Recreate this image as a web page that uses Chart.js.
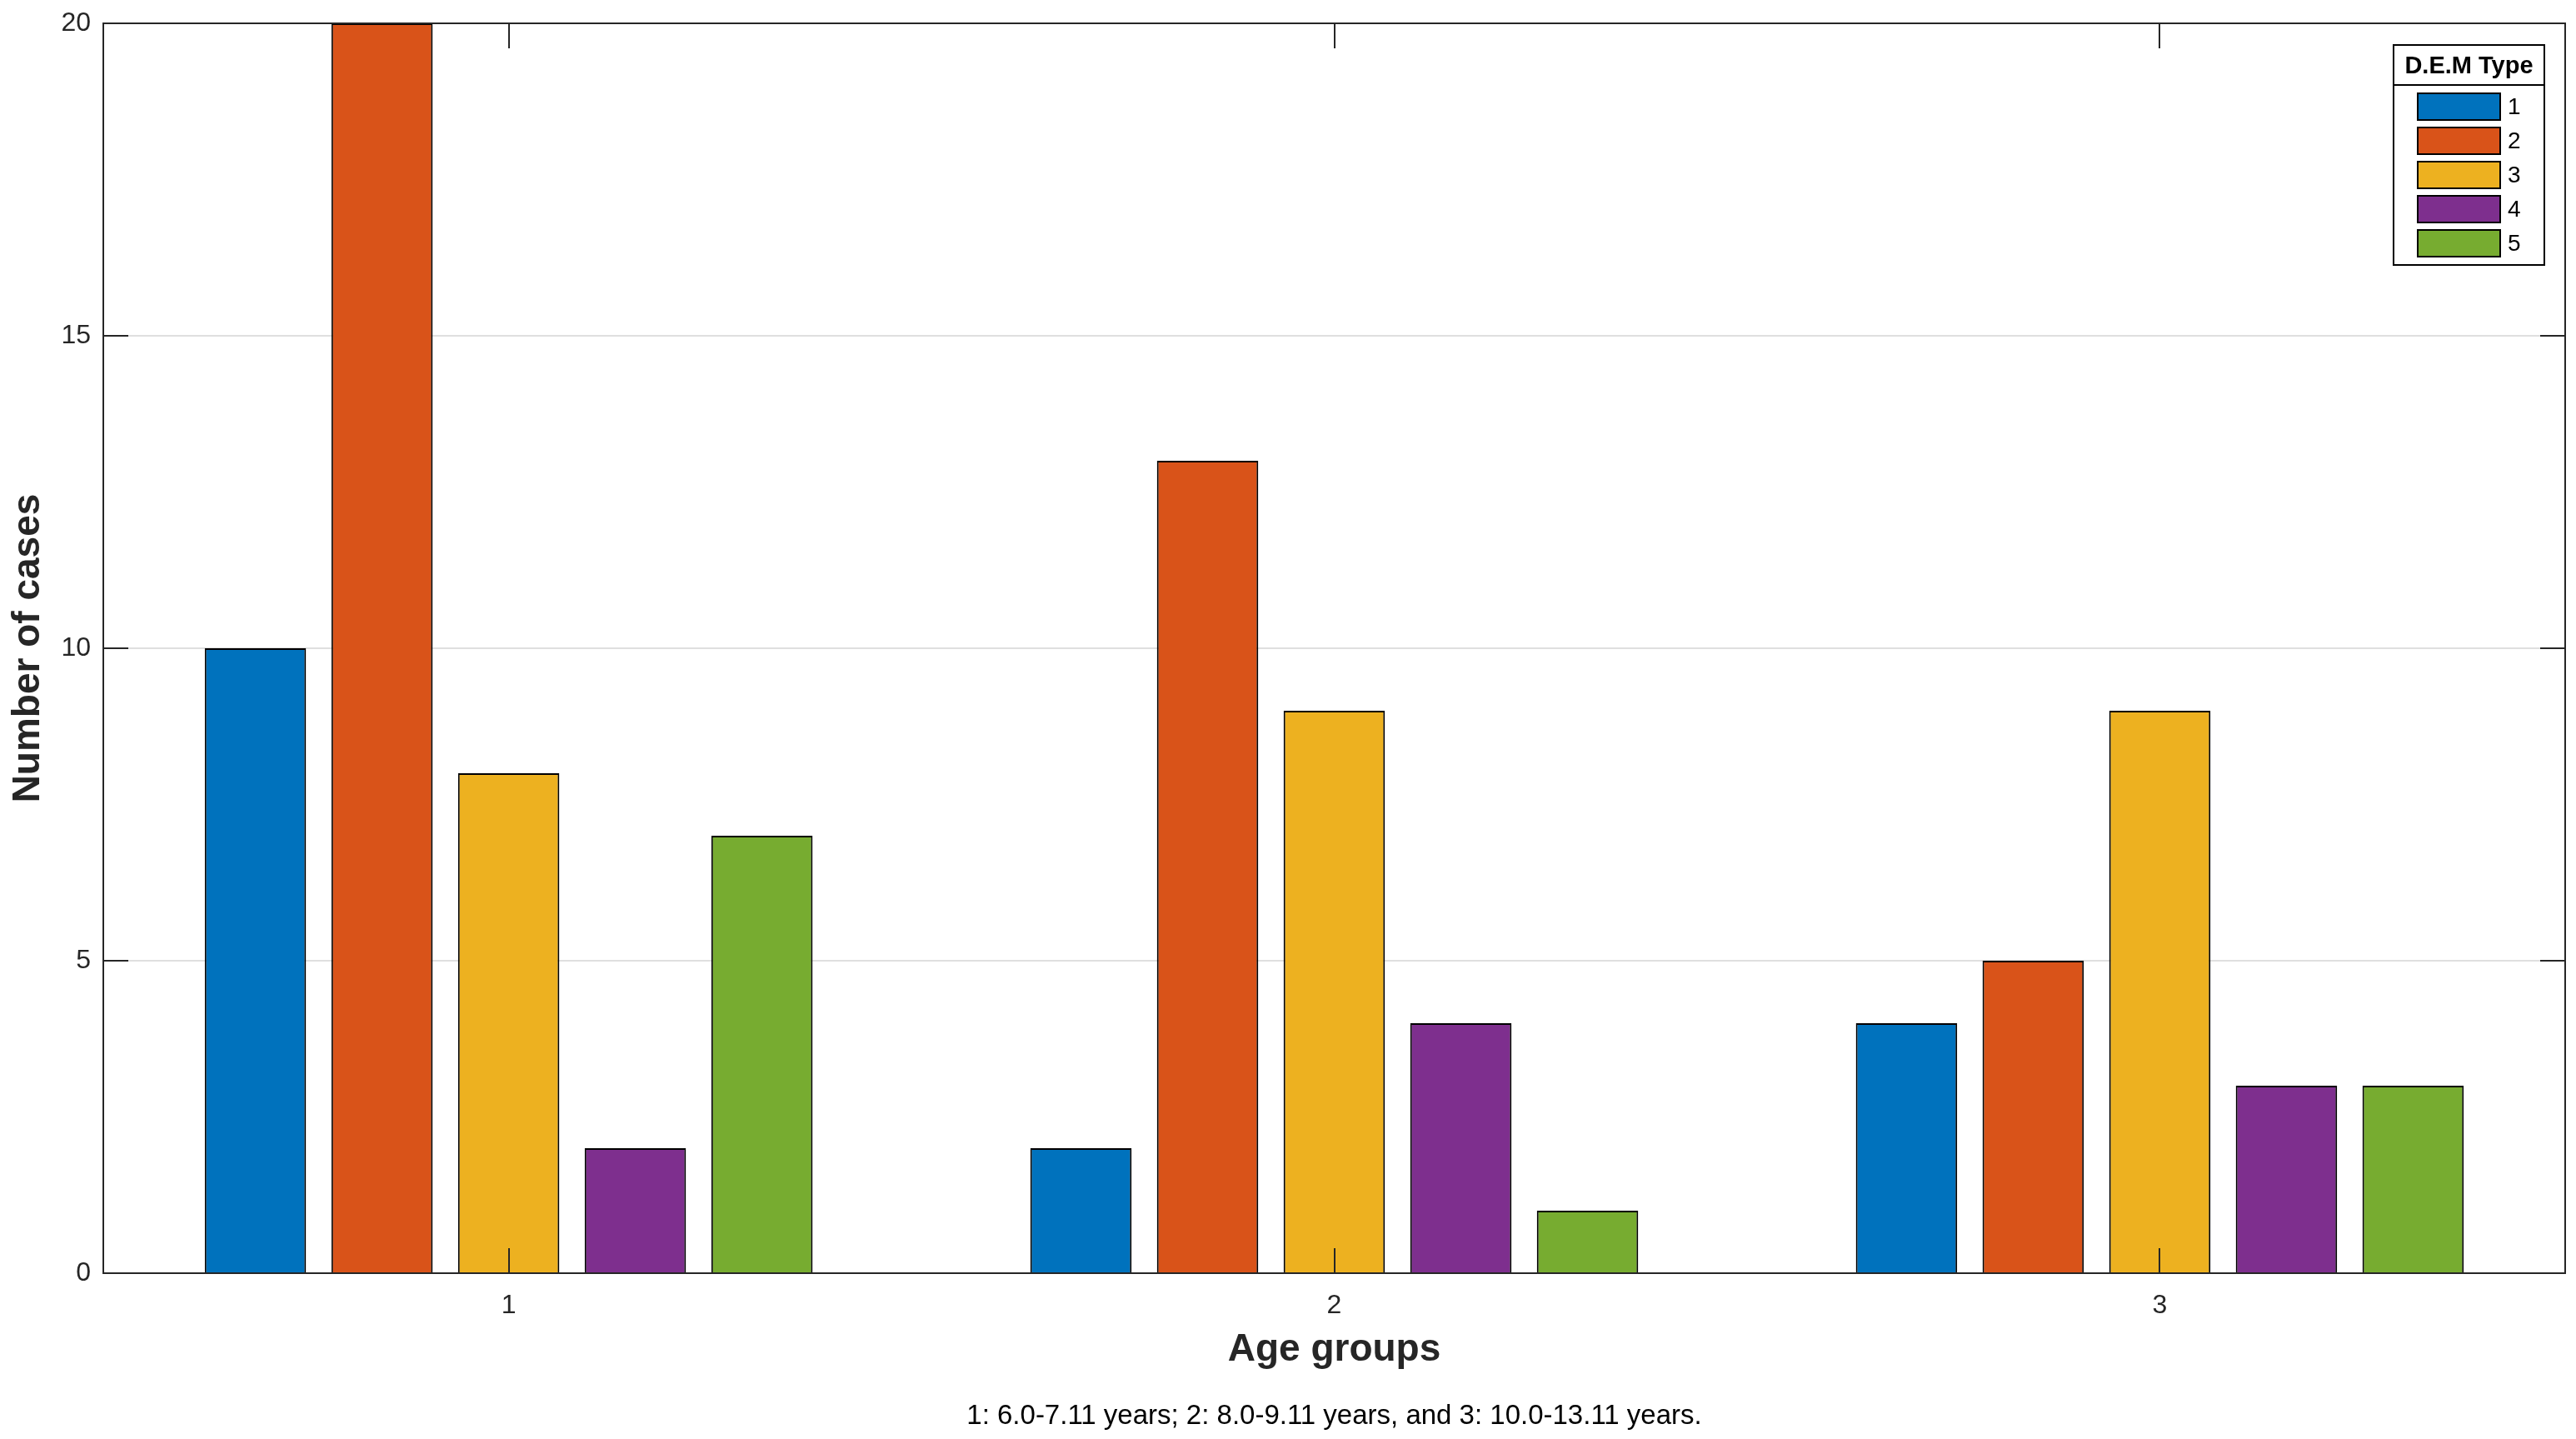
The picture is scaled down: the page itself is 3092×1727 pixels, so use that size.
<!DOCTYPE html>
<html>
<head>
<meta charset="utf-8">
<script src="https://cdn.jsdelivr.net/npm/chart.js@4.4.1/dist/chart.umd.min.js"></script>
<style>
  html, body { margin: 0; padding: 0; background: #fff; }
  canvas { display: block; }
</style>
</head>
<body>
<canvas id="demChart" width="3092" height="1727"></canvas>
<script>
const ageGroups = ['1', '2', '3'];
const demTypes = ['1', '2', '3', '4', '5'];
const type1 = [10, 2, 4];
const type2 = [20, 13, 5];
const type3 = [8, 9, 9];
const type4 = [2, 4, 3];
const type5 = [7, 1, 3];
const yTicks = [0, 5, 10, 15, 20];
const xTicks = [1, 2, 3];
const colors = ['#0072BD', '#D95319', '#EDB120', '#7E2F8E', '#77AC30'];
const footerText = '1: 6.0-7.11 years; 2: 8.0-9.11 years, and 3: 10.0-13.11 years.';

const seriesValues = [type1, type2, type3, type4, type5];
const axisColor = '#262626';
const fontFamily = '"Liberation Sans", Arial, Helvetica, sans-serif';

// box, inward ticks, legend, footer
const matlabLook = {
  id: 'matlabLook',
  afterDraw(chart) {
    const c = chart.ctx;
    const a = chart.chartArea;
    const xs = chart.scales.x;
    const ys = chart.scales.y;
    const tl = 30;
    c.save();
    c.strokeStyle = axisColor;
    c.lineWidth = 2;
    c.beginPath();
    yTicks.forEach(v => {
      const py = Math.round(ys.getPixelForValue(v));
      c.moveTo(a.left, py); c.lineTo(a.left + tl, py);
      c.moveTo(a.right, py); c.lineTo(a.right - tl, py);
    });
    xTicks.forEach(v => {
      const px = Math.round(xs.getPixelForValue(v));
      c.moveTo(px, a.bottom); c.lineTo(px, a.bottom - tl);
      c.moveTo(px, a.top); c.lineTo(px, a.top + tl);
    });
    c.stroke();
    c.strokeRect(a.left, a.top, a.right - a.left, a.bottom - a.top);

    // legend
    const lx = 2873, ly = 54, lw = 181, lh = 264;
    c.fillStyle = '#fff';
    c.fillRect(lx, ly, lw, lh);
    c.strokeStyle = '#000';
    c.lineWidth = 2;
    c.strokeRect(lx, ly, lw, lh);
    c.beginPath();
    c.moveTo(lx, 102); c.lineTo(lx + lw, 102);
    c.stroke();
    c.fillStyle = '#000';
    c.font = 'bold 29px ' + fontFamily;
    c.textAlign = 'center';
    c.textBaseline = 'middle';
    c.fillText('D.E.M Type', lx + lw / 2, 80);
    c.font = '28px ' + fontFamily;
    c.textAlign = 'left';
    chart.data.datasets.forEach((ds, i) => {
      const sy = 112 + i * 41;
      c.fillStyle = ds.backgroundColor;
      c.fillRect(2902, sy, 99, 32);
      c.strokeStyle = '#000';
      c.strokeRect(2902, sy, 99, 32);
      c.fillStyle = '#000';
      c.fillText(ds.label, 3010, sy + 17);
    });

    // footer note
    c.fillStyle = '#000';
    c.font = '33px ' + fontFamily;
    c.textAlign = 'center';
    c.fillText(footerText, (a.left + a.right) / 2, 1700);
    c.restore();
  }
};

const ctx = document.getElementById('demChart').getContext('2d');
const demChart = new Chart(ctx, {
  type: 'bar',
  data: {
    labels: ageGroups,
    datasets: demTypes.map((t, i) => ({
      label: t,
      data: seriesValues[i],
      backgroundColor: colors[i],
      borderColor: '#000',
      borderWidth: 2,
      categoryPercentage: 0.767,
      barPercentage: 0.8
    }))
  },
  options: {
    responsive: false,
    devicePixelRatio: 1,
    animation: false,
    layout: { padding: { top: 28, right: 13, left: 0, bottom: 0 } },
    plugins: {
      legend: { display: false },
      tooltip: { enabled: false }
    },
    scales: {
      x: {
        type: 'linear',
        min: 0.509,
        max: 3.491,
        offset: false,
        afterFit: (scale) => { scale.height = 199; scale.paddingLeft = 0; scale.paddingRight = 0; },
        afterBuildTicks: (scale) => { scale.ticks = xTicks.map(v => ({ value: v })); },
        grid: { display: false, drawTicks: false },
        border: { display: true, color: axisColor, width: 2 },
        ticks: {
          color: axisColor,
          padding: 20,
          font: { family: fontFamily, size: 32 }
        },
        title: {
          display: true,
          text: 'Age groups',
          color: axisColor,
          padding: { top: 0, bottom: 79 },
          font: { family: fontFamily, size: 46, weight: 'bold' }
        }
      },
      y: {
        min: 0,
        max: 20,
        afterFit: (scale) => { scale.width = 124; scale.paddingTop = 0; scale.paddingBottom = 0; },
        afterBuildTicks: (scale) => { scale.ticks = yTicks.map(v => ({ value: v })); },
        grid: {
          drawTicks: false,
          color: 'rgba(38,38,38,0.15)',
          lineWidth: 2
        },
        border: { display: true, color: axisColor, width: 2 },
        ticks: {
          color: axisColor,
          padding: 15,
          font: { family: fontFamily, size: 32 }
        },
        title: {
          display: true,
          text: 'Number of cases',
          color: axisColor,
          padding: { top: 7, bottom: 0 },
          font: { family: fontFamily, size: 46, weight: 'bold' }
        }
      }
    }
  },
  plugins: [matlabLook]
});
</script>
</body>
</html>
